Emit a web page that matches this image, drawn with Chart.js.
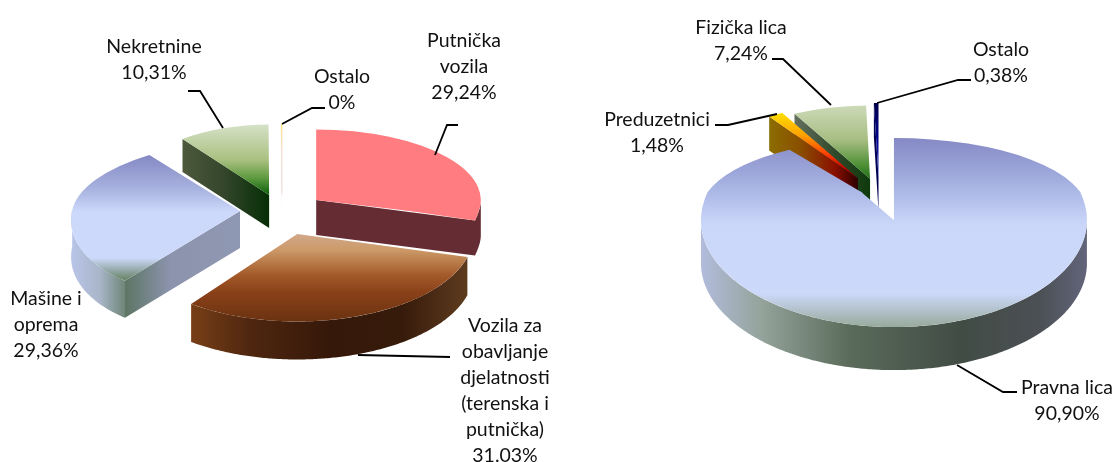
<!DOCTYPE html>
<html>
<head>
<meta charset="utf-8">
<script src="https://cdn.jsdelivr.net/npm/chart.js@4/dist/chart.umd.min.js"></script>
<style>
  html, body { margin:0; padding:0; background:#fff; }
  #wrap { position:relative; width:1115px; height:462px; overflow:hidden; }
  canvas { position:absolute; left:0; top:0; }
  .lbl { position:absolute; transform:translateX(-50%); text-align:center; white-space:nowrap;
         font-family:Lato, sans-serif; font-size:19.5px; line-height:26px; color:#111; }
</style>
</head>
<body>
<div id="wrap">
  <canvas id="pieLeft" width="1115" height="462"></canvas>
  <canvas id="pieRight" width="1115" height="462"></canvas>
</div>
<script>
// podaci
const leftCategories = ['Putnička vozila', 'Vozila za obavljanje djelatnosti (terenska i putnička)', 'Mašine i oprema', 'Nekretnine', 'Ostalo'];
const leftValues = [29.24, 31.03, 29.36, 10.31, 0.06];
const leftLabels = [
  ['Putnička', 'vozila', '29,24%'],
  ['Vozila za', 'obavljanje', 'djelatnosti', '(terenska i', 'putnička)', '31.03%'],
  ['Mašine i', 'oprema', '29,36%'],
  ['Nekretnine', '10,31%'],
  ['Ostalo', '0%']
];
const rightCategories = ['Pravna lica', 'Preduzetnici', 'Fizička lica', 'Ostalo'];
const rightValues = [90.90, 1.48, 7.24, 0.38];
const rightLabels = [
  ['Pravna lica', '90,90%'],
  ['Preduzetnici', '1,48%'],
  ['Fizička lica', '7,24%'],
  ['Ostalo', '0,38%']
];

// polozaj natpisa [centar x, vrh y]
const leftLabelPos = [[464, 27], [505, 312], [46, 285], [154, 33], [342, 63]];
const rightLabelPos = [[1067, 374], [657, 106], [741, 14], [1001, 36]];

// linije do natpisa
const leftLeaders = [
  [[458,125],[447,125],[435,155]],
  [[450,357],[358,355]],
  [[188,91],[200,91],[223,128]],
  [[325,108],[312,108],[282,124]]
];
const rightLeaders = [
  [[957,365],[1003,392],[1017,392]],
  [[715,125],[728,125],[777,114]],
  [[772,59],[783,59],[831,105]],
  [[971,80],[958,80],[877,103]]
];

const leftStyle = {
  radius: 168, center: [282, 211], tiltBack: 0.42, tiltFront: 0.52,
  explode: [43, 47, 42, 40, 39],
  depth: [35, 38, 37, 33, 22],
  scaleX: [0.98, 1.05, 1, 0.85, 1],
  shear: [0, 0, -0.2, 0, 0],
  edge: [0, 0, 0, 0, 1],
  order: [3, 4, 2, 0, 1],
  top: [
    [[130,'#ff7c80'],[220,'#ff7c80']],
    [[232,'#d2aa90'],[250,'#cc9a68'],[275,'#a45a2a'],[292,'#8a4119'],[322,'#6a3210']],
    [[153,'#8286c2'],[190,'#a9b4e0'],[212,'#cdd9fb'],[258,'#cdd9fb'],[278,'#6f8a72']],
    [[124,'#d6e2c8'],[160,'#a9c080'],[178,'#5e9a40'],[192,'#1a6a14']],
    [[124,'#ffe27a'],[150,'#f4d9c8'],[195,'#eedcdc']]
  ],
  wall: [
    [[316,'#652d33'],[478,'#652d33']],
    [[187,'#7a4017'],[250,'#4f2710'],[330,'#351809'],[400,'#361a0a'],[465,'#5c3a1e']],
    [[73,'#b8c4e6'],[100,'#a9b5c8'],[127,'#6a8272']],
    [[180,'#4e5a3d'],[269,'#062e05']],
    [[280,'#f0eaea'],[284,'#f0eaea']]
  ],
  cutStart: [
    [[312,'#7a3a40'],[318,'#7a3a40']],
    null,
    [[127,'#5f7767'],[170,'#8c93ad'],[240,'#8f98b2']],
    [[180,'#4e5a3d'],[225,'#33452a'],[269,'#062e05']],
    [[280,'#f0eaea'],[284,'#f0eaea']]
  ],
  cutEnd: [
    [[316,'#652d33'],[478,'#652d33']], null, null, null, null
  ]
};

const rightStyle = {
  radius: 193, center: [879, 192], tiltBack: 0.38, tiltFront: 0.554,
  explode: [53, 42, 36, 41],
  depth: [43, 34, 30, 34],
  scaleX: [1, 0.85, 0.85, 1],
  shear: [0, 0, 0, 0],
  edge: [0, 0, 0, 0],
  order: [3, 2, 1, 0],
  top: [
    [[138,'#8589c5'],[185,'#a6b2e2'],[225,'#cbd7f9'],[293,'#cdd9fb'],[327,'#98aa9c']],
    [[113,'#ffdf00'],[135,'#ffa200'],[155,'#ff3a00'],[170,'#b00000'],[180,'#5a0000']],
    [[103,'#cfdcbc'],[140,'#a7bd82'],[165,'#4f9036'],[178,'#24701a']],
    [[103,'#00004a'],[140,'#000090'],[176,'#3040c0']]
  ],
  wall: [
    [[701,'#b2bcdc'],[760,'#95a49c'],[850,'#5a6b5a'],[960,'#414c45'],[1040,'#4c5055'],[1087,'#62657a']],
    [[770,'#8c6c00'],[857,'#300000']],
    [[794,'#63705e'],[869,'#0e3a0c']],
    [[874,'#000050'],[882,'#000050']]
  ],
  cutStart: [
    null,
    [[770,'#8c6c00'],[800,'#8a4f00'],[835,'#8a0f00'],[857,'#300000']],
    [[794,'#63705e'],[835,'#30492c'],[869,'#0e3a0c']],
    [[874,'#000050'],[882,'#000050']]
  ],
  cutEnd: [null, null, null, null]
};

function gradient(ctx, x0, y0, x1, y1, stops, from, to) {
  const g = ctx.createLinearGradient(x0, y0, x1, y1);
  stops.forEach(s => {
    g.addColorStop(Math.min(1, Math.max(0, (s[0] - from) / (to - from))), s[1]);
  });
  return g;
}

const pie3d = {
  id: 'pie3d',
  beforeDatasetDraw(chart, args, st) {
    const ctx = chart.ctx;
    const arcs = chart.getDatasetMeta(0).data;
    const Cx = st.center[0], Cy = st.center[1];

    st.order.forEach(i => {
      const arc = arcs[i];
      const p = arc.getProps(['x', 'y', 'startAngle', 'endAngle', 'outerRadius']);
      const mid = (p.startAngle + p.endAngle) / 2;
      const ou = Math.cos(mid) * st.explode[i];
      const ov = Math.sin(mid) * st.explode[i];
      const sx = st.scaleX[i], sh = st.shear[i];
      const tilt = v => v < 0 ? st.tiltBack : st.tiltFront;
      const ax = Cx + ou;
      const ay = Cy + tilt(ov) * ov;

      const pt = (ang, r) => {
        const u = ou + Math.cos(ang) * r;
        const v = ov + Math.sin(ang) * r;
        const Y = Cy + tilt(v) * v;
        return [ax + sx * (u - ou) + sh * (Y - ay), Y];
      };
      const apex = pt(0, 0);
      const d = st.depth[i];

      ctx.save();
      // bocne strane
      const face = (ang, stops) => {
        if (!stops) return;
        const q = pt(ang, p.outerRadius);
        const from = stops[0][0], to = stops[stops.length - 1][0];
        ctx.fillStyle = gradient(ctx, from, 0, to, 0, stops, from, to);
        ctx.beginPath();
        ctx.moveTo(apex[0], apex[1]);
        ctx.lineTo(q[0], q[1]);
        ctx.lineTo(q[0], q[1] + d);
        ctx.lineTo(apex[0], apex[1] + d);
        ctx.closePath();
        ctx.fill();
      };
      face(p.startAngle, st.cutStart[i]);
      face(p.endAngle, st.cutEnd[i]);

      // obod, samo dio koji gleda prema nama
      const w = st.wall[i];
      const wf = w[0][0], wt = w[w.length - 1][0];
      const n = Math.max(2, Math.ceil((p.endAngle - p.startAngle) * 90));
      const rim = [];
      for (let k = 0; k <= n; k++) {
        const a = p.startAngle + (p.endAngle - p.startAngle) * k / n;
        if (Math.sin(a) >= -0.02) rim.push(pt(a, p.outerRadius));
      }
      if (rim.length > 1) {
        ctx.fillStyle = gradient(ctx, wf, 0, wt, 0, w, wf, wt);
        ctx.beginPath();
        rim.forEach((q, k) => k ? ctx.lineTo(q[0], q[1]) : ctx.moveTo(q[0], q[1]));
        rim.slice().reverse().forEach(q => ctx.lineTo(q[0], q[1] + d));
        ctx.closePath();
        ctx.fill();
      }
      ctx.restore();

      // gornja povrsina, zadnja i prednja polovina posebno
      [[st.tiltBack, 0, Cy + 0.5], [st.tiltFront, Cy - 0.5, 462]].forEach(h => {
        const t = h[0];
        ctx.save();
        ctx.beginPath();
        ctx.rect(0, h[1], 1115, h[2] - h[1]);
        ctx.clip();
        const f = Cy + t * (ov - p.y);
        const e = ax - sx * p.x + sh * (f - ay);
        ctx.setTransform(sx, 0, sh * t, t, e, f);
        const stops = st.top[i];
        const from = stops[0][0], to = stops[stops.length - 1][0];
        const fill = gradient(ctx, 0, (from - f) / t, 0, (to - f) / t, stops, from, to);
        const old = arc.options;
        arc.options = Object.assign({}, old, { backgroundColor: fill, borderColor: fill, borderWidth: st.edge[i] });
        arc.draw(ctx);
        arc.options = old;
        ctx.restore();
      });
    });
    return false;
  },
  afterDraw(chart, args, st) {
    const ctx = chart.ctx;
    ctx.save();
    ctx.strokeStyle = '#000';
    ctx.lineWidth = 1.8;
    st.leaders.forEach(line => {
      ctx.beginPath();
      line.forEach((q, k) => k ? ctx.lineTo(q[0], q[1]) : ctx.moveTo(q[0], q[1]));
      ctx.stroke();
    });
    ctx.restore();
  }
};

function makePie(id, categories, values, style, leaders) {
  return new Chart(document.getElementById(id), {
    type: 'pie',
    data: {
      labels: categories,
      datasets: [{
        data: values,
        borderWidth: 0,
        clip: false,
        backgroundColor: '#ccc'
      }]
    },
    options: {
      responsive: false,
      animation: false,
      events: [],
      radius: style.radius,
      layout: { padding: 0 },
      plugins: {
        legend: { display: false },
        tooltip: { enabled: false },
        pie3d: Object.assign({}, style, { leaders: leaders })
      }
    },
    plugins: [pie3d]
  });
}

function addLabels(labels, pos) {
  const wrap = document.getElementById('wrap');
  labels.forEach((lines, i) => {
    const d = document.createElement('div');
    d.className = 'lbl';
    d.style.left = pos[i][0] + 'px';
    d.style.top = pos[i][1] + 'px';
    d.innerHTML = lines.join('<br>');
    wrap.appendChild(d);
  });
}

makePie('pieLeft', leftCategories, leftValues, leftStyle, leftLeaders);
makePie('pieRight', rightCategories, rightValues, rightStyle, rightLeaders);
addLabels(leftLabels, leftLabelPos);
addLabels(rightLabels, rightLabelPos);
</script>
</body>
</html>
